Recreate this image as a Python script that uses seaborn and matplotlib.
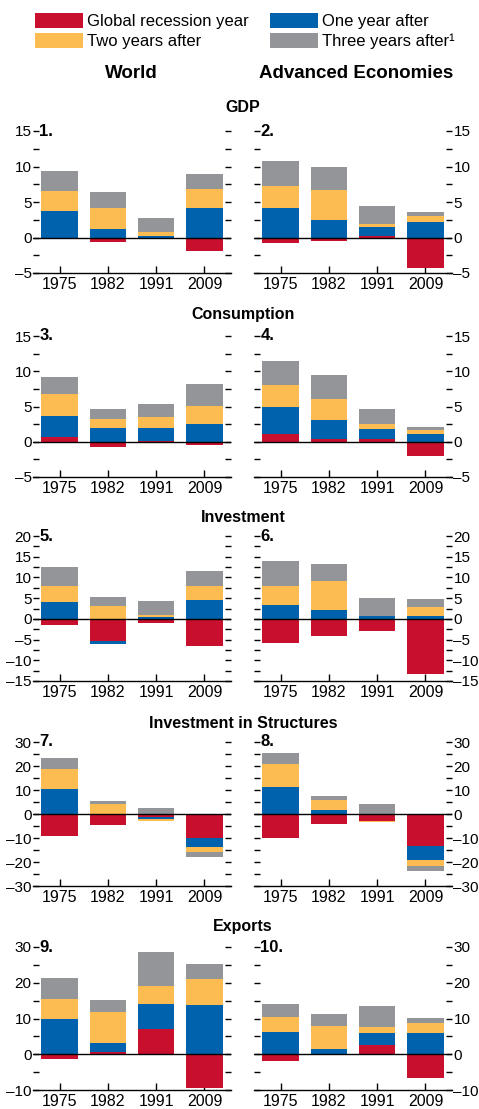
import numpy as np
import seaborn as sns
import matplotlib.pyplot as plt
from matplotlib.patches import Patch
from matplotlib.ticker import MultipleLocator, FuncFormatter

# rows of each panel: recession year, one year after, two years after, three years after
years = ["1975", "1982", "1991", "2009"]
series_names = ["Global recession year", "One year after", "Two years after", "Three years after\u00b9"]
colors = ["#C8102E", "#0061AC", "#FDBC52", "#939598"]  # red, blue, yellow, gray

world_gdp = [[-0.2, -0.7, -0.15, -1.9],
             [3.8, 1.2, 0.25, 4.1],
             [2.7, 3.0, 0.55, 2.7],
             [2.85, 2.15, 2.0, 2.1]]
ae_gdp = [[-0.75, -0.45, 0.2, -4.3],
          [4.1, 2.45, 1.3, 2.2],
          [3.1, 4.2, 0.4, 0.8],
          [3.6, 3.35, 2.5, 0.6]]
world_cons = [[0.65, -0.8, 0.15, -0.5],
              [3.05, 2.0, 1.85, 2.55],
              [3.1, 1.25, 1.55, 2.55],
              [2.4, 1.4, 1.8, 3.1]]
ae_cons = [[1.15, 0.45, 0.45, -2.05],
           [3.8, 2.65, 1.4, 1.15],
           [3.1, 2.95, 0.7, 0.55],
           [3.35, 3.35, 2.1, 0.45]]
world_inv = [[-1.4, -5.25, -1.1, -6.45],
             [3.95, -0.7, 0.55, 4.45],
             [4.1, 3.0, 0.5, 3.6],
             [4.35, 2.2, 3.15, 3.4]]
ae_inv = [[-5.75, -4.25, -3.05, -13.4],
          [3.45, 2.25, 0.8, 0.8],
          [4.6, 7.0, 0.0, 1.95],
          [5.8, 4.1, 4.35, 1.95]]
world_struct = [[-9.3, -4.7, -1.4, -10.0],
                [10.3, 0.0, -0.7, -3.9],
                [8.3, 4.0, -0.8, -2.1],
                [4.6, 1.3, 2.35, -2.1]]
ae_struct = [[-10.0, -4.3, -3.05, -13.3],
             [11.1, 1.5, 0.0, -6.0],
             [9.6, 4.2, -0.4, -2.4],
             [4.6, 1.65, 4.0, -2.05]]
world_exp = [[-1.3, 0.65, 7.05, -9.4],
             [9.85, 2.5, 7.0, 13.75],
             [5.55, 8.65, 5.0, 7.25],
             [5.9, 3.35, 9.5, 4.2]]
ae_exp = [[-1.85, 0.0, 2.6, -6.6],
          [6.25, 1.5, 3.35, 5.95],
          [4.2, 6.4, 1.65, 2.8],
          [3.6, 3.35, 5.9, 1.4]]

row_titles = ["GDP", "Consumption", "Investment", "Investment in Structures", "Exports"]
row_data = [(world_gdp, ae_gdp), (world_cons, ae_cons), (world_inv, ae_inv),
            (world_struct, ae_struct), (world_exp, ae_exp)]
row_ylims = [(-5, 15), (-5, 15), (-15, 20), (-30, 30), (-10, 30)]
row_major = [5, 5, 5, 10, 10]

sns.set_theme(style="white")
plt.rcParams["font.family"] = ["Liberation Sans", "DejaVu Sans"]
plt.rcParams["font.size"] = 11.5
plt.rcParams["text.color"] = "black"
plt.rcParams["xtick.color"] = "black"
plt.rcParams["ytick.color"] = "black"

W, H = 479, 1109
fig = plt.figure(figsize=(W / 100, H / 100), dpi=100)


def box(x0, x1, ytop, ybot):
    return [x0 / W, 1 - ybot / H, (x1 - x0) / W, (ybot - ytop) / H]


col_x = [(33, 231), (254, 452)]
row_y = [(131, 273), (336, 477), (536, 681), (742, 886), (947, 1090)]
title_y = [108, 315, 518, 723, 927]

dash_fmt = FuncFormatter(lambda v, p: f"{v:g}".replace("-", "\u2013"))


def stacked(ax, vals):
    # positives stack upward, negatives downward; outer layers drawn first
    v = np.array(vals)
    pos = np.cumsum(np.clip(v, 0, None), axis=0)
    neg = np.cumsum(np.clip(v, None, 0), axis=0)
    for k in range(3, -1, -1):
        sns.barplot(x=years, y=pos[k], color=colors[k], saturation=1, width=0.75,
                    linewidth=0, errorbar=None, ax=ax)
        sns.barplot(x=years, y=neg[k], color=colors[k], saturation=1, width=0.75,
                    linewidth=0, errorbar=None, ax=ax)


n = 1
for r in range(5):
    for c in range(2):
        ax = fig.add_axes(box(col_x[c][0], col_x[c][1], row_y[r][0], row_y[r][1]))
        stacked(ax, row_data[r][c])
        ax.axhline(0, color="black", lw=1)
        ax.set_xlim(-0.55, 3.55)
        ax.set_ylim(*row_ylims[r])
        ax.yaxis.set_major_locator(MultipleLocator(row_major[r]))
        ax.yaxis.set_minor_locator(MultipleLocator(row_major[r] / 2))
        ax.yaxis.set_major_formatter(dash_fmt)
        for s in ["left", "right", "top"]:
            ax.spines[s].set_visible(False)
        ax.spines["bottom"].set_color("black")
        ax.spines["bottom"].set_linewidth(1)
        ax.tick_params(axis="y", which="both", direction="in", length=4, width=1,
                       left=True, right=True, labelleft=(c == 0), labelright=(c == 1),
                       pad=1, labelsize=11)
        ax.tick_params(axis="x", direction="in", length=5, width=1, bottom=True,
                       pad=3, labelsize=11.5)
        ax.set_xlabel("")
        ax.set_ylabel("")
        ax.text(0.032, 1.0, f"{n}.", transform=ax.transAxes, fontweight="bold",
                ha="left", va="center", fontsize=12)
        n += 1
    fig.text(243 / W, 1 - title_y[r] / H, row_titles[r], ha="center", va="center",
             fontweight="bold", fontsize=11.5)

fig.text(131 / W, 1 - 73 / H, "World", ha="center", va="center", fontweight="bold", fontsize=13.5)
fig.text(356 / W, 1 - 73 / H, "Advanced Economies", ha="center", va="center",
         fontweight="bold", fontsize=13.5)

# column-wise legend: red, yellow | blue, gray
leg_order = [0, 2, 1, 3]
handles = [Patch(facecolor=colors[i], edgecolor="none") for i in leg_order]
labels = [series_names[i] for i in leg_order]
fig.legend(handles, labels, ncol=2, loc="upper left", bbox_to_anchor=(35 / W, 1 - 13 / H),
           frameon=False, fontsize=12, handlelength=2.9, handleheight=1.05,
           handletextpad=0.2, labelspacing=0.2, columnspacing=1.3, borderaxespad=0,
           borderpad=0)

fig.savefig("out.png", dpi=100)
